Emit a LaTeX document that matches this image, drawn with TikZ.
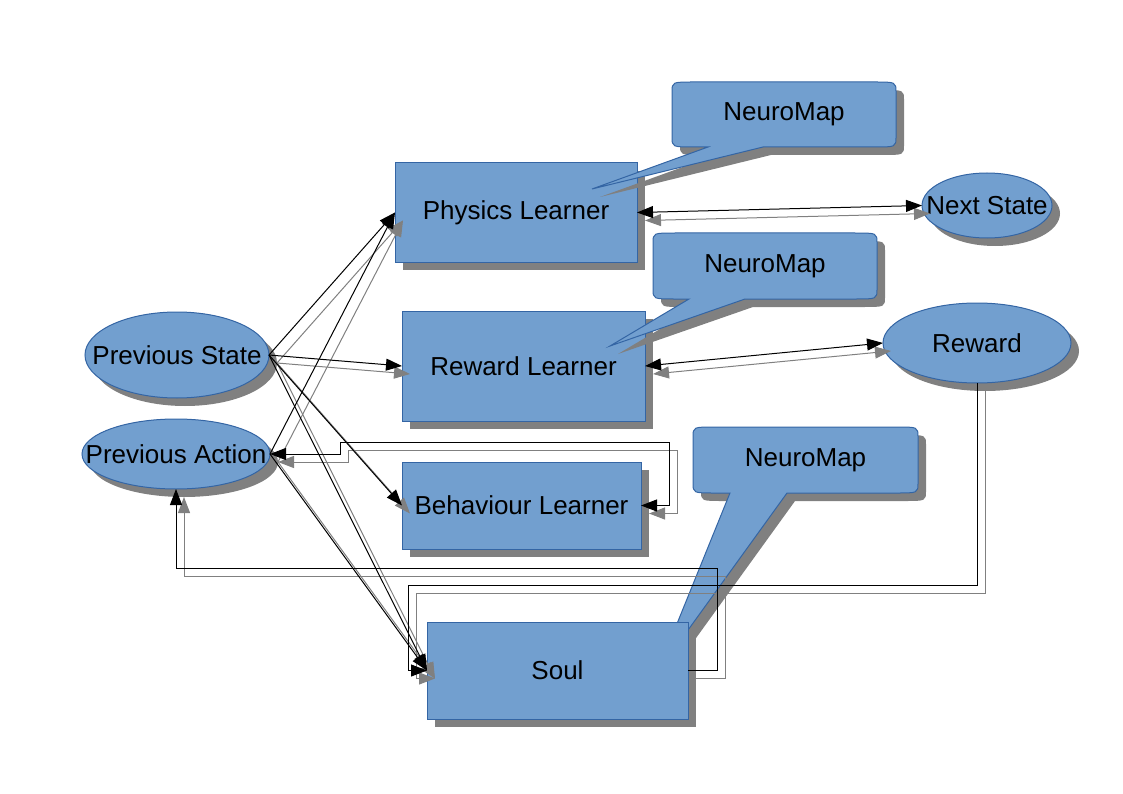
\documentclass[tikz,border=0pt]{standalone}
\usepackage{fontspec}
\setmainfont{Liberation Sans}
\usetikzlibrary{arrows.meta,shapes.geometric,shadows}
\definecolor{nfill}{HTML}{729FCF}
\definecolor{nborder}{HTML}{3465A4}
\definecolor{shgray}{HTML}{808080}
\newcommand\mycallout{(\ptx,\pty) -- (\pb,\yb) -- ({\xb-22},\yb) .. controls (\xb,\yb) .. (\xb,{\yb-10}) -- (\xb,{\ya+10}) .. controls (\xb,\ya) .. ({\xb-22},\ya) -- ({\xa+22},\ya) .. controls (\xa,\ya) .. (\xa,{\ya+10}) -- (\xa,{\yb-10}) .. controls (\xa,\yb) .. ({\xa+22},\yb) -- (\pa,\yb) -- cycle}
\begin{document}
\begin{tikzpicture}[x=1pt,y=-1pt,
  every node/.style={font=\fontsize{26pt}{31pt}\selectfont, inner sep=0pt, outer sep=0pt},
  shad/.style={drop shadow={shadow xshift=8pt,shadow yshift=-8pt,fill=shgray,opacity=1}},
  learner/.style={rectangle, fill=nfill, draw=nborder, line width=1pt, shad},
  oval/.style={ellipse, fill=nfill, draw=nborder, line width=1pt, shad},
  >={Triangle[length=16pt,width=12pt]},
  fgline/.style={draw=black, line width=1pt},
  shline/.style={draw=shgray, line width=1pt, transform canvas={xshift=8pt,yshift=-8pt}},
]
\useasboundingbox (0,0) rectangle (1123,794);

% learner boxes
\node[learner, minimum width=242pt, minimum height=99pt] (phys) at (516,212.5) {Physics Learner};
\node[learner, minimum width=243pt, minimum height=110pt] (rl) at (523.5,366) {Reward Learner};
\node[learner, minimum width=239pt, minimum height=87pt] (beh) at (521.5,505.5) {Behaviour Learner};

% ellipses
\node[oval, minimum width=184pt, minimum height=86pt] (ps) at (177,355) {\makebox[0pt]{Previous State}};
\node[oval, minimum width=188pt, minimum height=70pt] (pa) at (176,454) {\makebox[0pt]{Previous Action}};
\node[oval, minimum width=130pt, minimum height=65pt] (next) at (987,205.5) {\makebox[0pt]{Next State}};
\node[oval, minimum width=188pt, minimum height=80pt] (rew) at (977,343) {\makebox[0pt]{Reward}};

% callouts
\foreach \xa/\ya/\xb/\yb/\pa/\pb/\ptx/\pty/\nm in {672/82/896/147/708/763/592/189/nmA, 653/233/877/299/689/745/610/346/nmB, 693/427/918/493/730/787/657/673/nmC}{
  \fill[shgray, shift={(8,8)}] \mycallout;
  \filldraw[fill=nfill, draw=nborder, line width=1pt] \mycallout;
  \node (\nm) at ({(\xa+\xb)/2},{(\ya+\yb)/2}) {NeuroMap};
}

% soul box (covers the tip of the third callout)
\node[learner, minimum width=261pt, minimum height=97pt] (soul) at (557.5,670.5) {Soul};

% connectors (shadow first, then line)
\foreach \s in {shline,fgline}{
  \draw[\s,->] (ps.east) -- (phys.west);
  \draw[\s,->] (pa.east) -- (phys.west);
  \draw[\s,->] (ps.east) -- (rl.west);
  \draw[\s,->] (ps.east) -- (beh.west);
  \draw[\s,->] (ps.east) -- (soul.west);
  \draw[\s,->] (pa.east) -- (soul.west);
  \draw[\s,<->] (phys.east) -- (next.west);
  \draw[\s,<->] (rl.east) -- (rew.west);
  \draw[\s,<->] (pa.east) -- (340,454) -- (340,442) -- (669,442) |- (beh.east);
  \draw[\s,->] (soul.east) -| (717,568) -| (pa.south);
  \draw[\s,->] (rew.south) |- (408,585) |- (soul.west);
}
\end{tikzpicture}
\end{document}
